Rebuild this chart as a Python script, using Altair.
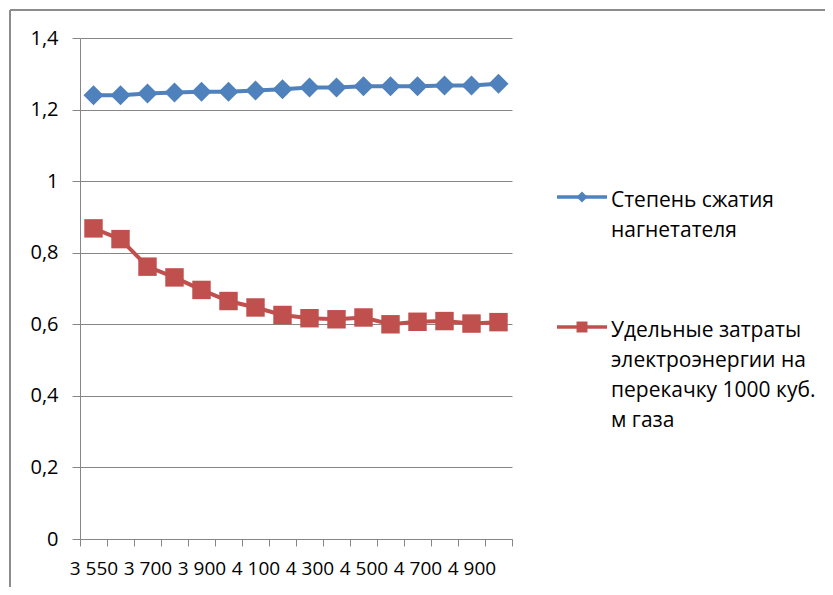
import altair as alt
import pandas as pd

categories = ["3 550", "3 600", "3 700", "3 800", "3 900", "4 000", "4 100", "4 200",
              "4 300", "4 400", "4 500", "4 600", "4 700", "4 800", "4 900", "5 000"]
shown_labels = ["3 550", "3 700", "3 900", "4 100", "4 300", "4 500", "4 700", "4 900"]
series_names = ["Степень сжатия нагнетателя",
                "Удельные затраты электроэнергии на перекачку 1000 куб. м газа"]
legend_lines = [["Степень сжатия", "нагнетателя"],
                ["Удельные затраты", "электроэнергии на", "перекачку 1000 куб.", "м газа"]]
compression = [1.240, 1.240, 1.245, 1.248, 1.250, 1.250, 1.253, 1.257,
               1.262, 1.262, 1.265, 1.265, 1.265, 1.267, 1.267, 1.272]
energy = [0.868, 0.838, 0.761, 0.731, 0.696, 0.665, 0.647, 0.626,
          0.617, 0.614, 0.619, 0.600, 0.607, 0.609, 0.602, 0.606]
colors = ["#4F81BD", "#C0504D"]
shapes = ["diamond", "square"]
y_ticks = [0, 0.2, 0.4, 0.6, 0.8, 1.0, 1.2, 1.4]

rows = []
for name, vals in zip(series_names, [compression, energy]):
    for c, v in zip(categories, vals):
        rows.append({"cat": c, "series": name, "value": v})
df = pd.DataFrame(rows)

FONT = "Open Sans"
GRAY = "#868686"

shown_js = "[" + ",".join("'" + s + "'" for s in shown_labels) + "]"
x_enc = alt.X("cat:N", sort=categories, title=None,
              scale=alt.Scale(type="band", paddingInner=0, paddingOuter=0),
              axis=alt.Axis(tickBand="extent", labelAngle=0, labelOverlap=False,
                            labelExpr=f"indexof({shown_js}, datum.label) >= 0 ? datum.label : ''",
                            domainColor=GRAY, tickColor=GRAY, tickSize=7,
                            labelPadding=13, labelFont=FONT, labelFontSize=19,
                            labelColor="black", grid=False))
y_enc = alt.Y("value:Q", title=None,
              scale=alt.Scale(domain=[0, 1.4], nice=False, zero=True),
              axis=alt.Axis(values=y_ticks, grid=True, gridColor=GRAY, gridWidth=1,
                            domainColor=GRAY, tickColor=GRAY, tickSize=8,
                            labelPadding=14, labelFont=FONT, labelFontSize=20,
                            labelColor="black",
                            labelExpr="replace(format(datum.value, '.1~f'), '.', ',')"))

color_scale = alt.Scale(domain=series_names, range=colors)

base = alt.Chart(df)

line = base.mark_line(strokeWidth=4).encode(
    x=x_enc, y=y_enc,
    color=alt.Color("series:N", scale=color_scale, legend=None))

point_layers = []
for name, shp, sz in zip(series_names, shapes, [400, 340]):
    point_layers.append(
        base.transform_filter(alt.datum.series == name).mark_point(
            shape=shp, filled=True, size=sz, opacity=1).encode(
            x=x_enc, y=y_enc,
            color=alt.Color("series:N", scale=color_scale, legend=None)))

# legend (drawn as a small guide block to the right of the plot)
one = pd.DataFrame({"k": [0]})
legend_layers = []
legend_sym_y = [159, 289]
for i in range(len(series_names)):
    yc = legend_sym_y[i]
    legend_layers.append(alt.Chart(one).mark_rule(color=colors[i], strokeWidth=3.5).encode(
        x=alt.value(477), x2=alt.value(527), y=alt.value(yc)))
    legend_layers.append(alt.Chart(one).mark_point(
        shape=shapes[i], filled=True, size=120, opacity=1, color=colors[i]).encode(
        x=alt.value(502), y=alt.value(yc)))
    legend_layers.append(alt.Chart(one).mark_text(
        text=legend_lines[i], align="left", baseline="alphabetic", font=FONT,
        fontSize=21, lineHeight=30, color="black").encode(
        x=alt.value(531), y=alt.value(yc + 10)))

frame_top = alt.Chart(one).mark_rule(color="#8c8c8c", strokeWidth=2).encode(
    x=alt.value(-70), x2=alt.value(760), y=alt.value(-28))
frame_left = alt.Chart(one).mark_rule(color="#8c8c8c", strokeWidth=2).encode(
    x=alt.value(-70), y=alt.value(-28), y2=alt.value(560))

chart = alt.layer(frame_top, frame_left, line, *point_layers, *legend_layers).properties(
    width=432, height=501,
    autosize=alt.AutoSizeParams(type="none"),
    padding={"left": 72, "top": 30, "right": 313, "bottom": 48},
    background="white",
).configure_view(stroke=None)

chart.save("out.html", embed_options={"renderer": "svg", "actions": False})
